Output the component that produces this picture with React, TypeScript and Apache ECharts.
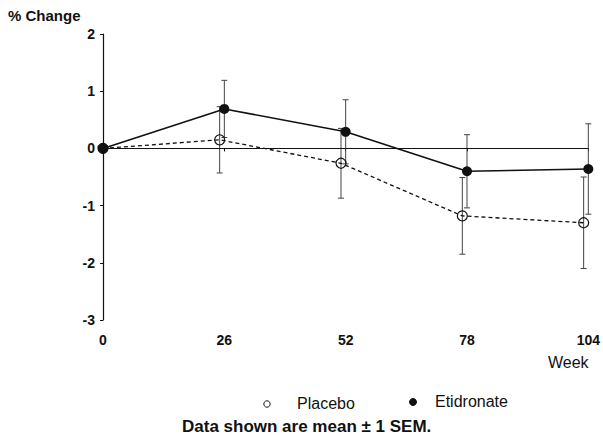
import React, { useEffect, useRef } from "react";
import * as echarts from "echarts";

const weeks = [0, 26, 52, 78, 104];
const placeboMean = [0, 0.15, -0.26, -1.18, -1.3];
const placeboSem = [0, 0.58, 0.61, 0.67, 0.8];
const etidronateMean = [0, 0.69, 0.29, -0.4, -0.36];
const etidronateSem = [0, 0.5, 0.56, 0.64, 0.79];
const xTicks = [0, 26, 52, 78, 104];
const yTicks = [-3, -2, -1, 0, 1, 2];
const placeboJitter = -1; // weeks, small horizontal offset so bars don't overlap

const FONT = "Liberation Sans, Arial, sans-serif";

export default function App() {
  const ref = useRef<HTMLDivElement>(null);
  useEffect(() => {
    if (!ref.current) return;
    const chart = echarts.init(ref.current, null, { renderer: "svg" });

    const placeboX = weeks.map((w) => (w === 0 ? w : w + placeboJitter));
    const placeboData = placeboX.map((x, i) => [x, placeboMean[i]]);
    const etidData = weeks.map((x, i) => [x, etidronateMean[i]]);
    const placeboErr = placeboX
      .map((x, i) => [x, placeboMean[i] - placeboSem[i], placeboMean[i] + placeboSem[i]])
      .filter((d, i) => placeboSem[i] > 0);
    const etidErr = weeks
      .map((x, i) => [x, etidronateMean[i] - etidronateSem[i], etidronateMean[i] + etidronateSem[i]])
      .filter((d, i) => etidronateSem[i] > 0);

    const errRender = (params: any, api: any) => {
      const x = api.value(0);
      const lo = api.coord([x, api.value(1)]);
      const hi = api.coord([x, api.value(2)]);
      const cap = 3;
      const style = { stroke: "#444", lineWidth: 1, fill: "none" };
      return {
        type: "group",
        children: [
          { type: "line", shape: { x1: lo[0], y1: lo[1], x2: hi[0], y2: hi[1] }, style },
          { type: "line", shape: { x1: lo[0] - cap, y1: lo[1], x2: lo[0] + cap, y2: lo[1] }, style },
          { type: "line", shape: { x1: hi[0] - cap, y1: hi[1], x2: hi[0] + cap, y2: hi[1] }, style },
        ],
      };
    };

    chart.setOption({
      animation: false,
      backgroundColor: "#fff",
      grid: { left: 103, right: 12, top: 34, bottom: 125, containLabel: false },
      xAxis: {
        type: "value",
        min: xTicks[0],
        max: xTicks[xTicks.length - 1],
        interval: 26,
        axisLine: { lineStyle: { color: "#111", width: 1.2 } },
        axisTick: { show: true, length: 3, lineStyle: { color: "#111" } },
        splitLine: { show: false },
        axisLabel: {
          color: "#111",
          fontFamily: FONT,
          fontSize: 14,
          fontWeight: "bold",
          margin: 13,
        },
      },
      yAxis: {
        type: "value",
        min: yTicks[0],
        max: yTicks[yTicks.length - 1],
        interval: 1,
        axisLine: { show: true, lineStyle: { color: "#111", width: 1.2 } },
        axisTick: { show: true, length: 3, lineStyle: { color: "#111" } },
        splitLine: { show: false },
        axisLabel: {
          color: "#111",
          fontFamily: FONT,
          fontSize: 14,
          fontWeight: "bold",
          margin: 8,
        },
      },
      series: [
        {
          name: "Placebo error",
          type: "custom",
          renderItem: errRender,
          data: placeboErr,
          z: 1,
          silent: true,
        },
        {
          name: "Etidronate error",
          type: "custom",
          renderItem: errRender,
          data: etidErr,
          z: 1,
          silent: true,
        },
        {
          name: "Placebo",
          type: "line",
          data: placeboData,
          symbol: "circle",
          symbolSize: 10,
          showAllSymbol: true,
          lineStyle: { color: "#111", width: 1.3, type: [4, 3] },
          itemStyle: { color: "rgba(255,255,255,0)", borderColor: "#111", borderWidth: 1.2 },
          z: 3,
          markLine: {
            silent: true,
            symbol: "none",
            label: { show: false },
            lineStyle: { color: "#111", width: 1.2, type: "solid" },
            data: [{ yAxis: 0 }],
          },
        },
        {
          name: "Etidronate",
          type: "line",
          data: etidData,
          symbol: "circle",
          symbolSize: 10,
          showAllSymbol: true,
          lineStyle: { color: "#111", width: 1.6, type: "solid" },
          itemStyle: { color: "#111" },
          z: 4,
        },
      ],
      graphic: [
        {
          type: "text",
          left: 8,
          top: 8,
          style: { text: "% Change", font: `bold 15px ${FONT}`, fill: "#111" },
        },
        {
          type: "text",
          left: 548,
          top: 354,
          style: { text: "Week", font: `16px ${FONT}`, fill: "#111" },
        },
        {
          type: "circle",
          shape: { cx: 267, cy: 404, r: 3.2 },
          style: { fill: "#fff", stroke: "#111", lineWidth: 1 },
        },
        {
          type: "text",
          left: 297,
          top: 395,
          style: { text: "Placebo", font: `16px ${FONT}`, fill: "#111" },
        },
        {
          type: "circle",
          shape: { cx: 413, cy: 402, r: 3.5 },
          style: { fill: "#111", stroke: "#111", lineWidth: 1 },
        },
        {
          type: "text",
          left: 435,
          top: 393,
          style: { text: "Etidronate", font: `16px ${FONT}`, fill: "#111" },
        },
        {
          type: "text",
          left: 182,
          top: 418,
          style: { text: "Data shown are mean ± 1 SEM.", font: `bold 17px ${FONT}`, fill: "#111" },
        },
      ],
    });
    return () => chart.dispose();
  }, []);
  return (
    <div
      ref={ref}
      style={{ position: "fixed", left: 0, top: 0, width: 603, height: 445 }}
    />
  );
}
